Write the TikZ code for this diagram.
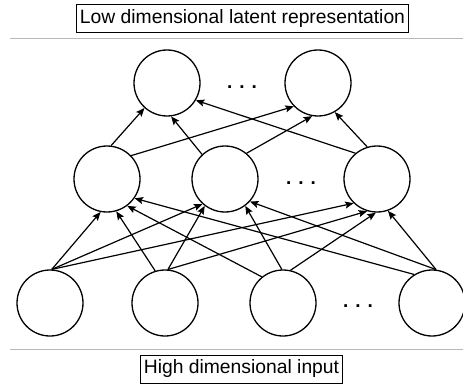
\documentclass[tikz,border=0pt]{standalone}
\usepackage{fontspec}
\setmainfont{Liberation Sans}
\usetikzlibrary{arrows.meta}

\tikzset{
  unit/.style={circle, draw, line width=1.3pt, minimum size=66pt, inner sep=0pt},
  link/.style={line width=1.2pt, -{Stealth[length=8.5pt,width=7pt,inset=1.5pt]}},
  caption/.style={draw, line width=0.9pt, inner xsep=3.5pt, inner ysep=0pt,
    minimum height=28pt, font=\fontsize{19.3}{23}\selectfont},
  divider/.style={draw=black!28, line width=0.9pt},
  ellipsisdots/.style={font=\fontsize{19}{23}\selectfont\bfseries, inner sep=0pt}
}

\begin{document}
\begin{tikzpicture}[x=1pt, y=-1pt]
  \useasboundingbox (0,0) rectangle (463,385);

  % captions and separators
  \node[caption] (latent) at (242.5,18.5) {Low dimensional latent representation};
  \node[caption] (input) at (241.5,369) {High dimensional input};
  \coordinate (d1a) at (10,38);  \coordinate (d1b) at (463,38);
  \coordinate (d2a) at (10,349); \coordinate (d2b) at (463,349);
  \draw[divider] (d1a) -- (d1b);
  \draw[divider] (d2a) -- (d2b);

  % top layer
  \node[unit] (t1) at (167,83) {};
  \node[unit] (t2) at (318,83) {};
  \node[ellipsisdots] (tdots) at (242,87.5) {. . .};

  % middle layer
  \node[unit] (m1) at (107,179) {};
  \node[unit] (m2) at (225,179) {};
  \node[unit] (m3) at (377,179) {};
  \node[ellipsisdots] (mdots) at (301,183.5) {. . .};

  % bottom layer
  \node[unit] (b1) at (50,303) {};
  \node[unit] (b2) at (165,303) {};
  \node[unit] (b3) at (283,303) {};
  \node[unit] (b4) at (432,303) {};
  \node[ellipsisdots] (bdots) at (358,306.5) {. . .};

  % bottom -> middle
  \draw[link] (b1.87) -- (m1.259);
  \draw[link] (b1.87) -- (m2.228);
  \draw[link] (b1.87) -- (m3.226);
  \draw[link] (b2.107) -- (m1.286);
  \draw[link] (b2.85) -- (m2.233);
  \draw[link] (b2.85) -- (m3.253);
  \draw[link] (b3.129) -- (m1.307);
  \draw[link] (b3.92) -- (m2.307);
  \draw[link] (b3.77) -- (m3.268);
  \draw[link] (b4.122) -- (m1.325);
  \draw[link] (b4.83) -- (m2.318);
  \draw[link] (b4.83) -- (m3.289);

  % middle -> top
  \draw[link] (m1.83) -- (t1.228);
  \draw[link] (m1.44) -- (t2.224);
  \draw[link] (m2.133) -- (t1.277);
  \draw[link] (m2.50) -- (t2.260);
  \draw[link] (m3.130) -- (t1.329);
  \draw[link] (m3.107) -- (t2.300);
\end{tikzpicture}
\end{document}
